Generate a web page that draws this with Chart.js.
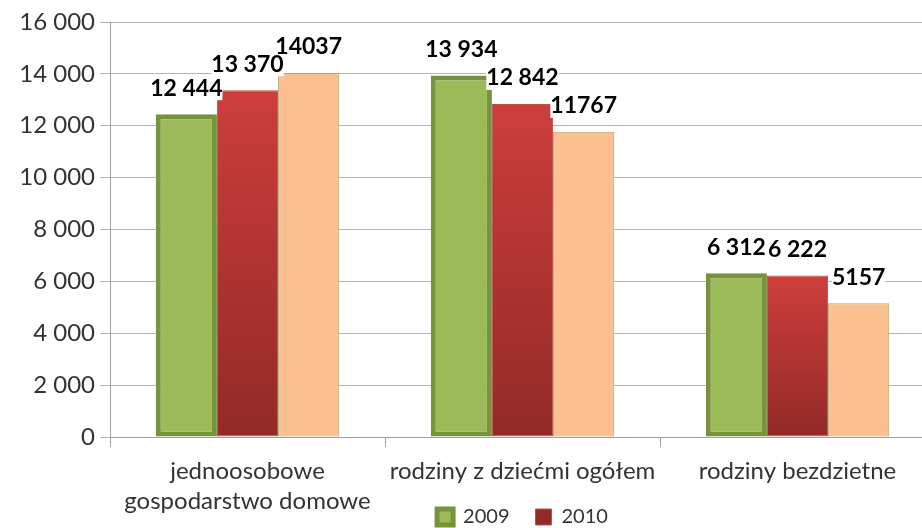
<!DOCTYPE html>
<html>
<head>
<meta charset="utf-8">
<script src="https://cdn.jsdelivr.net/npm/chart.js@4"></script>
<style>
  html, body { margin: 0; padding: 0; background: #fff; }
  #wrap { width: 922px; height: 528px; overflow: hidden; }
</style>
</head>
<body>
<div id="wrap"><canvas id="chart" width="936" height="528"></canvas></div>
<script>
// Dane wykresu
const categories = [
    ["jednoosobowe", "gospodarstwo domowe"],
    "rodziny z dziećmi ogółem",
    "rodziny bezdzietne"
];
const seriesNames = ["2009", "2010", "2011"];
const values2009 = [12444, 13934, 6312];
const values2010 = [13370, 12842, 6222];
const values2011 = [14037, 11767, 5157];
const yTicks = [0, 2000, 4000, 6000, 8000, 10000, 12000, 14000, 16000];

const FONT = "Lato, 'Open Sans', sans-serif";

// Format liczby ze spacją jako separatorem tysięcy
function spaced(v) {
    return String(v).replace(/\B(?=(\d{3})+(?!\d))/g, " ");
}

// Gradient czerwonego słupka (osobno dla każdego słupka)
function redFill(context) {
    const chart = context.chart;
    if (context.type !== "data" || !chart.chartArea) return "#C0504D";
    const y = chart.scales.y;
    const top = y.getPixelForValue(context.raw);
    const bottom = y.getPixelForValue(0);
    const g = chart.ctx.createLinearGradient(0, top, 0, bottom);
    g.addColorStop(0, "#CD3E3B");
    g.addColorStop(1, "#922A28");
    return g;
}

// Etykiety danych nad słupkami
const dataLabels = {
    id: "dataLabels",
    afterLayout(chart) {
        // legenda niżej, etykiety osi X bez przycinania
        chart.legend.top += 9;
        chart.legend.bottom += 9;
        chart.scales.x.bottom = chart.height;
    },
    afterDatasetsDraw(chart) {
        const ctx = chart.ctx;
        ctx.save();
        ctx.font = "bold 23px " + FONT;
        ctx.textAlign = "center";
        ctx.textBaseline = "middle";
        const items = [];
        chart.data.datasets.forEach((ds, di) => {
            chart.getDatasetMeta(di).data.forEach((bar, i) => {
                const txt = di === 2 ? String(ds.data[i]) : spaced(ds.data[i]);
                items.push({ txt, x: bar.x, y: bar.y - 26, w: ctx.measureText(txt).width });
            });
        });
        ctx.fillStyle = "#fff";
        items.forEach(it => ctx.fillRect(it.x - it.w / 2, it.y - 12, it.w, 24));
        ctx.fillStyle = "#000";
        items.forEach(it => ctx.fillText(it.txt, it.x, it.y));
        ctx.restore();
    }
};

const ctx = document.getElementById("chart").getContext("2d");
new Chart(ctx, {
    type: "bar",
    data: {
        labels: categories,
        datasets: [
            {
                label: seriesNames[0],
                data: values2009,
                backgroundColor: "#9BBB59",
                borderColor: "#77933C",
                borderWidth: 5,
                borderSkipped: false
            },
            {
                label: seriesNames[1],
                data: values2010,
                backgroundColor: redFill,
                borderColor: "#C0504D",
                borderWidth: 1,
                borderSkipped: false
            },
            {
                label: seriesNames[2],
                data: values2011,
                backgroundColor: "#FAC090",
                borderColor: "#B3A872",
                borderWidth: 1,
                borderSkipped: false
            }
        ]
    },
    options: {
        responsive: false,
        animation: false,
        layout: { padding: { top: 22, right: 1, left: 0, bottom: 0 } },
        datasets: {
            bar: { categoryPercentage: 0.667, barPercentage: 1.0 }
        },
        scales: {
            x: {
                offset: true,
                afterFit(scale) { scale.height = 35; },
                grid: {
                    offset: true,
                    drawOnChartArea: false,
                    drawTicks: true,
                    tickLength: 10,
                    color: "#A0A0A0"
                },
                border: { color: "#A0A0A0" },
                ticks: {
                    color: "#333",
                    font: { family: FONT, size: 24, lineHeight: 1.25 },
                    maxRotation: 0,
                    autoSkip: false,
                    padding: 9
                }
            },
            y: {
                min: 0,
                max: 16000,
                afterBuildTicks(scale) {
                    scale.ticks = yTicks.map(v => ({ value: v }));
                },
                afterFit(scale) { scale.width = 110; },
                grid: {
                    color: "#B4B4B4",
                    tickLength: 10
                },
                border: { color: "#A0A0A0" },
                ticks: {
                    color: "#333",
                    font: { family: FONT, size: 24 },
                    padding: 5,
                    callback: v => spaced(v)
                }
            }
        },
        plugins: {
            legend: {
                position: "bottom",
                fullSize: false,
                labels: {
                    filter: item => item.datasetIndex < 2,
                    color: "#333",
                    font: { family: FONT, size: 20 },
                    boxWidth: 16,
                    boxHeight: 16,
                    padding: 26
                }
            },
            tooltip: { enabled: false }
        }
    },
    plugins: [dataLabels]
});
</script>
</body>
</html>
